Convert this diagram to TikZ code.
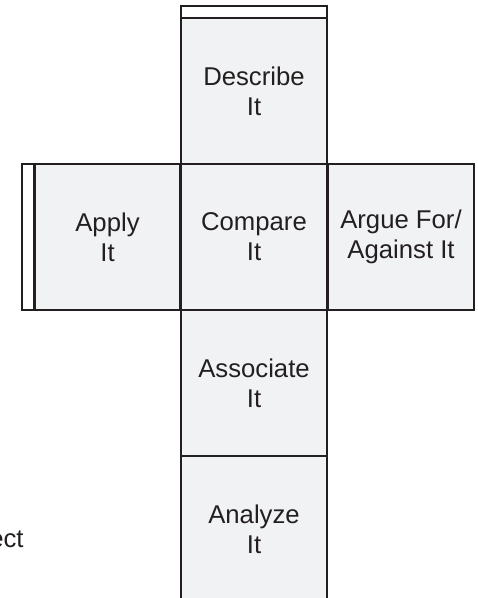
\documentclass[tikz,border=0pt]{standalone}
\usepackage{fontspec}
\setmainfont{Liberation Sans}
\definecolor{cubeLine}{HTML}{231F20}
\definecolor{cubeFill}{HTML}{F1F2F4}
\begin{document}
\begin{tikzpicture} [x=0.5bp,y=-0.5bp,
	face/.style={shape=rectangle,minimum size=73bp,inner sep=0pt,draw=cubeLine,line width=1.1bp,fill=cubeFill,align=center,text=cubeLine,font=\fontsize{12.9}{15}\selectfont},
	flap/.style={shape=rectangle,inner sep=0pt,draw=cubeLine,line width=1.1bp,fill=white}]
	\useasboundingbox (0,0) rectangle (478,598);
	% glue flaps
	\node (topFlap) at (254,12)[flap,minimum width=73bp,minimum height=6bp] {};
	\node (leftFlap) at (28,237)[flap,minimum width=6bp,minimum height=73bp] {};

	\node (describeNode) at (254,91)[face] {Describe\\It};
	\node (applyNode) at (107.5,237)[face] {Apply\\It};
	\node (argueNode) at (401,237)[face] {Argue For/\\Against It};
	\node (compareNode) at (254,237)[face] {Compare\\It};
	\node (associateNode) at (254,383)[face] {Associate\\It};
	\node (analyzeNode) at (254,529)[face] {Analyze\\It};

	\node (cutText) at (24,547)[anchor=base east,inner sep=0pt,text=cubeLine,font=\fontsize{12.9}{15}\selectfont] {ect};
\end{tikzpicture}
\end{document}
